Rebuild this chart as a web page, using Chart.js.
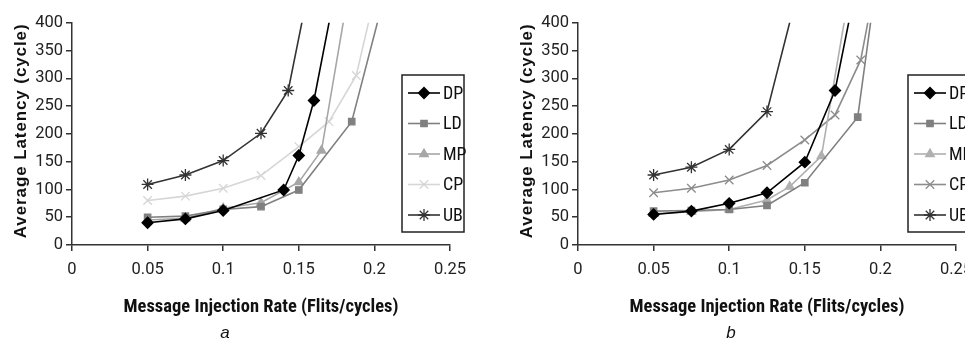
<!DOCTYPE html>
<html>
<head>
<meta charset="utf-8">
<script src="https://cdn.jsdelivr.net/npm/chart.js@4.4.1/dist/chart.umd.min.js"></script>
<style>
html, body { margin: 0; padding: 0; background: #fff; }
#wrap { position: relative; width: 965px; height: 344px; overflow: hidden; }
.box { position: absolute; top: 0; width: 482px; height: 344px; }
</style>
</head>
<body>
<div id="wrap">
  <div class="box" style="left:0"><canvas id="chartA" width="482" height="344"></canvas></div>
  <div class="box" style="left:506px"><canvas id="chartB" width="482" height="344"></canvas></div>
</div>
<script>
// series names and axis ticks
var seriesNames = ['DP', 'LD', 'MP', 'CP', 'UB'];
var xTickLabels = ['0', '0.05', '0.1', '0.15', '0.2', '0.25'];
var yTickLabels = ['0', '50', '100', '150', '200', '250', '300', '350', '400'];

// panel a  (last point of each series is above the 400 cut-off)
var aDP_x = [0.05, 0.075, 0.1, 0.14, 0.15, 0.16, 0.175];
var aDP_y = [40, 47, 62, 99, 161, 260, 470];
var aLD_x = [0.05, 0.075, 0.1, 0.125, 0.15, 0.185, 0.21];
var aLD_y = [50, 52, 64, 69, 99, 222, 484];
var aMP_x = [0.05, 0.075, 0.1, 0.125, 0.15, 0.165, 0.185];
var aMP_y = [45, 48, 66, 76, 113, 170, 490];
var aCP_x = [0.05, 0.075, 0.1, 0.125, 0.15, 0.17, 0.188, 0.2];
var aCP_y = [80, 88, 102, 125, 177, 222, 305, 446];
var aUB_x = [0.05, 0.075, 0.1, 0.125, 0.143, 0.16];
var aUB_y = [109, 126, 152, 201, 278, 508];

// panel b
var bDP_x = [0.05, 0.075, 0.1, 0.125, 0.15, 0.17, 0.185];
var bDP_y = [55, 61, 75, 94, 149, 278, 481];
var bLD_x = [0.05, 0.075, 0.1, 0.125, 0.15, 0.185, 0.2];
var bLD_y = [61, 62, 64, 71, 112, 230, 530];
var bMP_x = [0.05, 0.075, 0.1, 0.125, 0.14, 0.161, 0.18];
var bMP_y = [56, 60, 64, 81, 105, 160, 464];
var bCP_x = [0.05, 0.075, 0.1, 0.125, 0.15, 0.17, 0.187, 0.2];
var bCP_y = [94, 102, 117, 143, 189, 234, 333, 520];
var bUB_x = [0.05, 0.075, 0.1, 0.125, 0.15];
var bUB_y = [126, 140, 172, 240, 507];

var NARROW = "Roboto, 'Liberation Sans', sans-serif";
var WIDE = "'Liberation Sans', Arial, sans-serif";
var Y_TITLE = 'Average Latency (cycle)';

function pts(xs, ys){
  var out = [];
  for(var i = 0; i < xs.length; i++){
    out.push({x: xs[i], y: ys[i]});
  }
  return out;
}

function makeSet(name, xs, ys, color, style, radius){
  return {
    label: name,
    data: pts(xs, ys),
    borderColor: color,
    backgroundColor: color,
    pointBackgroundColor: color,
    pointBorderColor: color,
    pointStyle: style,
    pointRadius: radius,
    pointBorderWidth: 1.3,
    borderWidth: 1.6,
    tension: 0
  };
}

// legend drawn as a framed box over the plot, like the original figure
// and the y title, spaced out a little as in the scan
var extras = {
  id: 'extras',
  afterDraw: function(chart){
    var ctx = chart.ctx;
    var area = chart.chartArea;
    ctx.save();
    ctx.translate(21, (area.top + area.bottom) / 2 - 3);
    ctx.rotate(-Math.PI / 2);
    ctx.font = 'bold 17px ' + WIDE;
    ctx.letterSpacing = '0.9px';
    ctx.fillStyle = '#111';
    ctx.textAlign = 'center';
    ctx.textBaseline = 'middle';
    ctx.fillText(Y_TITLE, 0, 0);
    ctx.restore();

    var left = 402, top = 75, w = 62, h = 157;
    ctx.save();
    ctx.fillStyle = '#fff';
    ctx.fillRect(left, top, w, h);
    ctx.strokeStyle = '#222';
    ctx.lineWidth = 1.5;
    ctx.strokeRect(left, top, w, h);
    chart.data.datasets.forEach(function(ds, i){
      var y = top + 18 + i * 30.5;
      ctx.strokeStyle = ds.borderColor;
      ctx.lineWidth = ds.borderWidth;
      ctx.beginPath();
      ctx.moveTo(left + 6, y);
      ctx.lineTo(left + 38, y);
      ctx.stroke();
      ctx.fillStyle = ds.pointBackgroundColor;
      ctx.strokeStyle = ds.pointBorderColor;
      ctx.lineWidth = 1.3;
      Chart.helpers.drawPoint(ctx, {pointStyle: ds.pointStyle, radius: ds.pointRadius, rotation: 0, borderWidth: 1.3}, left + 22, y);
      ctx.fillStyle = '#111';
      ctx.font = 'semi-condensed 18px ' + NARROW;
      ctx.textBaseline = 'middle';
      ctx.textAlign = 'left';
      ctx.fillText(ds.label, left + 41, y + 1);
    });
    ctx.restore();
  }
};

function makeChart(id, caption, sets){
  var ctx = document.getElementById(id).getContext('2d');
  return new Chart(ctx, {
    type: 'line',
    data: { datasets: sets },
    plugins: [extras],
    options: {
      responsive: false,
      animation: false,
      layout: { padding: { left: 0, right: 32, top: 22.7, bottom: 0 } },
      plugins: {
        legend: { display: false },
        tooltip: { enabled: false },
        title: {
          display: true,
          text: caption,
          position: 'bottom',
          color: '#111',
          font: { family: WIDE, size: 17, style: 'italic', weight: 'normal' },
          padding: { top: 0, bottom: 1 }
        }
      },
      scales: {
        x: {
          type: 'linear',
          min: 0,
          max: 0.25,
          afterFit: function(scale){ scale.height = 77.6; },
          border: { display: true, color: '#333', width: 1.5 },
          grid: { drawOnChartArea: false, drawTicks: true, tickLength: 6, color: '#333', lineWidth: 1.5 },
          ticks: {
            stepSize: 0.05,
            padding: 9,
            color: '#222',
            font: { family: NARROW, size: 16.5 },
            callback: function(v, i){ return xTickLabels[i]; }
          },
          title: {
            display: true,
            text: 'Message Injection Rate (Flits/cycles)',
            color: '#111',
            font: { family: NARROW, size: 18.5, weight: 'bold condensed' },
            padding: { top: 0, bottom: 4 }
          }
        },
        y: {
          min: 0,
          max: 400,
          afterFit: function(scale){ scale.width = 72; },
          border: { display: true, color: '#333', width: 1.5 },
          grid: { drawOnChartArea: false, drawTicks: true, tickLength: 6, color: '#333', lineWidth: 1.5 },
          ticks: {
            stepSize: 50,
            padding: 3,
            color: '#222',
            font: { family: NARROW, size: 16.5 },
            callback: function(v, i){ return yTickLabels[i]; }
          },
          title: { display: false }
        }
      }
    }
  });
}

makeChart('chartA', 'a', [
  makeSet(seriesNames[0], aDP_x, aDP_y, '#000000', 'rectRot', 5.5),
  makeSet(seriesNames[1], aLD_x, aLD_y, '#808080', 'rect', 4.5),
  makeSet(seriesNames[2], aMP_x, aMP_y, '#a6a6a6', 'triangle', 5),
  makeSet(seriesNames[3], aCP_x, aCP_y, '#d6d6d6', 'crossRot', 6),
  makeSet(seriesNames[4], aUB_x, aUB_y, '#333333', 'star', 6)
]);

makeChart('chartB', 'b', [
  makeSet(seriesNames[0], bDP_x, bDP_y, '#000000', 'rectRot', 5.5),
  makeSet(seriesNames[1], bLD_x, bLD_y, '#808080', 'rect', 4.5),
  makeSet(seriesNames[2], bMP_x, bMP_y, '#b0b0b0', 'triangle', 5),
  makeSet(seriesNames[3], bCP_x, bCP_y, '#8c8c8c', 'crossRot', 6),
  makeSet(seriesNames[4], bUB_x, bUB_y, '#333333', 'star', 6)
]);
</script>
</body>
</html>
